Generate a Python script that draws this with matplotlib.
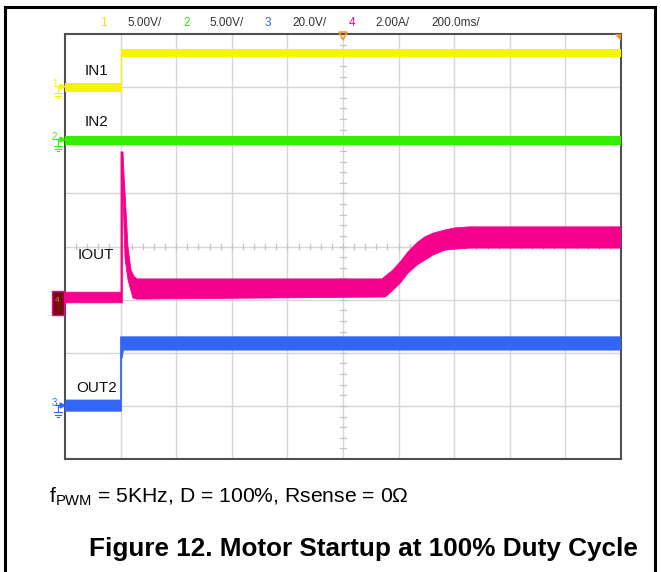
import matplotlib
matplotlib.use("Agg")
import matplotlib.pyplot as plt
from matplotlib.lines import Line2D
from matplotlib.patches import Rectangle, Polygon

plt.rcParams['font.family'] = ['Liberation Sans', 'DejaVu Sans']
plt.rcParams['mathtext.fontset'] = 'custom'
plt.rcParams['mathtext.rm'] = 'Liberation Sans'
plt.rcParams['mathtext.it'] = 'Liberation Sans'

W, H = 661, 572

# ---------------- data (in scope divisions: x 0..10, y 0..8) ----------------
header_items = ["1", "5.00V/", "2", "5.00V/", "3", "20.0V/", "4", "2.00A/", "200.0ms/"]
header_x_px = [100, 127, 183, 209, 265, 292, 349, 375, 431]

trace_labels = ["IN1", "IN2", "IOUT", "OUT2"]
label_t = [0.36, 0.36, 0.23, 0.20]
label_v = [7.30, 6.34, 3.84, 1.33]

# IN1 (yellow): low band before the step, high band after
in1_edges = [0.0, 1.0, 10.0]
in1_lo = [6.90, 7.57]
in1_hi = [7.07, 7.72]

# IN2 (green): constant band
in2_t = [0.0, 10.0]
in2_lo = [5.91, 5.91]
in2_hi = [6.08, 6.08]

# OUT2 (blue): polygon outline (top left->right, bottom right->left)
out2_top_t = [0.0, 1.0, 1.0, 10.0]
out2_top_v = [1.11, 1.11, 2.30, 2.30]
out2_bot_t = [10.0, 1.05, 1.03, 1.015, 1.015, 0.0]
out2_bot_v = [2.05, 2.05, 1.90, 1.90, 0.90, 0.90]

# IOUT (magenta): envelope of the noisy band
iout_top_t = [0.0, 1.007, 1.007, 1.043, 1.061, 1.079, 1.133, 1.187, 1.241, 1.295,
              5.70, 5.88, 6.03, 6.17, 6.33, 6.47, 6.62, 6.83, 7.01, 7.28, 10.0]
iout_top_v = [3.14, 3.14, 5.78, 5.78, 5.35, 5.03, 3.99, 3.56, 3.44, 3.39,
              3.39, 3.54, 3.71, 3.90, 4.07, 4.18, 4.25, 4.31, 4.35, 4.37, 4.37]
iout_bot_t = [10.0, 7.28, 7.01, 6.83, 6.62, 6.33, 6.17, 6.03, 5.88, 5.76,
              1.295, 1.223, 1.133, 1.079, 1.052, 1.034, 1.031, 0.0]
iout_bot_v = [3.97, 3.97, 3.95, 3.93, 3.84, 3.65, 3.50, 3.31, 3.16, 3.05,
              3.01, 3.03, 3.37, 3.78, 4.69, 5.48, 2.94, 2.94]

caption = r"f$_{\mathrm{PWM}}$ = 5KHz, D = 100%, Rsense = 0Ω"
title = "Figure 12. Motor Startup at 100% Duty Cycle"

# ---------------- colours ----------------
C_YEL = '#f5f500'
C_GRN = '#33ee00'
C_BLU = '#3366f5'
C_PNK = '#f5008c'
C_GRID = '#d6d6d6'

fig = plt.figure(figsize=(W / 100, H / 100), dpi=100)

def F(x, y):
    return (x / W, 1 - y / H)

# outer frame
for xs, ys in [((5, 5), (7, 572)), ((5, 655), (7, 7)), ((655, 655), (7, 572))]:
    fig.add_artist(Line2D([x / W for x in xs], [1 - y / H for y in ys],
                          transform=fig.transFigure, color='black', lw=2.2))

ax = fig.add_axes([65 / W, (H - 459) / H, 556 / W, 425 / H])
ax.set_xlim(0, 10)
ax.set_ylim(0, 8)
ax.set_xticks([])
ax.set_yticks([])
for s in ax.spines.values():
    s.set_color('#505050')
    s.set_linewidth(1.5)

# grid
for i in range(1, 10):
    ax.axvline(i, color=C_GRID, lw=1, zorder=0)
for j in range(1, 8):
    ax.axhline(j, color=C_GRID, lw=1, zorder=0)
# centre minor ticks
for k in range(1, 50):
    xx = k * 0.2
    ax.plot([xx, xx], [4 - 0.05, 4 + 0.05], color='#c4c4c4', lw=0.9, zorder=0)
for k in range(1, 40):
    yy = k * 0.2
    ax.plot([5 - 0.05, 5 + 0.05], [yy, yy], color='#c4c4c4', lw=0.9, zorder=0)

# traces
ax.fill_between(in1_edges, in1_lo + [in1_lo[-1]], in1_hi + [in1_hi[-1]],
                step='post', color=C_YEL, lw=0, zorder=3)
ax.plot([1.0, 1.0], [in1_lo[0], in1_hi[1]], color=C_YEL, lw=1, zorder=3)

ax.fill_between(in2_t, in2_lo, in2_hi, color=C_GRN, lw=0, zorder=3)

ax.add_patch(Polygon(list(zip(out2_top_t + out2_bot_t, out2_top_v + out2_bot_v)),
                     closed=True, facecolor=C_BLU, edgecolor=C_BLU, lw=0.6, zorder=3))
ax.add_patch(Polygon(list(zip(iout_top_t + iout_bot_t, iout_top_v + iout_bot_v)),
                     closed=True, facecolor=C_PNK, edgecolor=C_PNK, lw=0.6, zorder=4))

# trigger markers
ax.plot([5], [7.96], marker='v', markersize=6, markerfacecolor='none',
        markeredgecolor='#f0a030', markeredgewidth=1.2, clip_on=False, zorder=6)
ax.add_patch(Polygon([(9.90, 8), (10, 8), (10, 7.87)], closed=True,
                     facecolor='#f09020', edgecolor='none', clip_on=False, zorder=6))

# trace labels
for lab, tt, vv in zip(trace_labels, label_t, label_v):
    ax.text(tt, vv, lab, fontsize=11, color='#111111', ha='left', va='center', zorder=7)

# channel ground markers on the left
def gnd_marker(num, y, color):
    fig.text(*F(52, y - 2), num, fontsize=7, color=color, ha='left', va='center')
    fig.add_artist(Line2D([56 / W, 63 / W], [1 - y / H] * 2, transform=fig.transFigure,
                          color=color, lw=1))
    fig.add_artist(Line2D([62 / W], [1 - y / H], transform=fig.transFigure, color=color,
                          marker='>', markersize=3.5, lw=0))
    fig.add_artist(Line2D([58 / W, 58 / W], [1 - y / H, 1 - (y + 7) / H],
                          transform=fig.transFigure, color=color, lw=0.8))
    for dy, hw in [(7, 4), (9.5, 2.6), (12, 1.2)]:
        fig.add_artist(Line2D([(58 - hw) / W, (58 + hw) / W], [1 - (y + dy) / H] * 2,
                              transform=fig.transFigure, color=color, lw=0.8))

gnd_marker("1", 86, C_YEL)
gnd_marker("2", 139, C_GRN)
gnd_marker("3", 405, C_BLU)
fig.add_artist(Rectangle(F(51.5, 315), 12 / W, 24 / H, transform=fig.transFigure,
                         facecolor='#7a0a14', edgecolor=C_PNK, lw=1))
fig.text(*F(55, 300), "4", fontsize=6, color='#d07080', ha='left', va='center')

# header
header_colors = ['#e8e800', '#333333', '#33dd00', '#333333', '#3366ff',
                 '#333333', '#ff0090', '#333333', '#333333']
for txt, xp, col in zip(header_items, header_x_px, header_colors):
    fig.text(*F(xp, 22.5), txt, fontsize=8.5,
             family=['Liberation Sans Narrow', 'Liberation Sans'],
             color=col, ha='left', va='center')

# caption and title
fig.text(*F(49, 497), caption, fontsize=15.2, color='black', ha='left', va='center')
fig.text(*F(363.5, 549), title, fontsize=18.8, fontweight='bold', color='black',
         ha='center', va='center')

fig.savefig('out.png', dpi=100)
